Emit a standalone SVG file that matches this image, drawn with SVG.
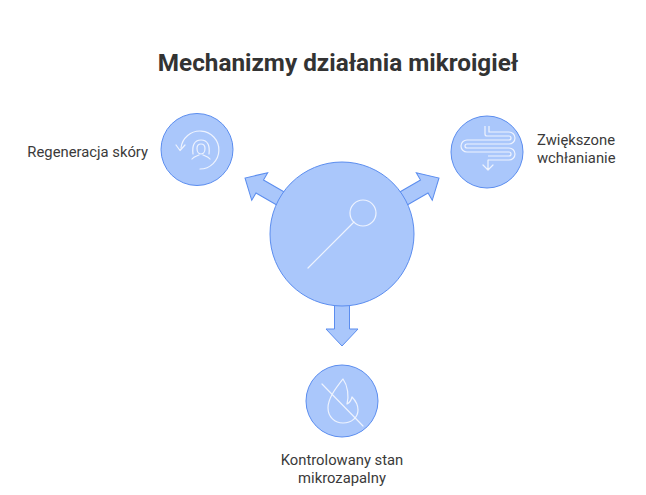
<svg xmlns="http://www.w3.org/2000/svg" width="646" height="495" viewBox="0 0 646 495">
<defs>
<style>
.node{fill:#aac7fb;stroke:#5b8def;stroke-width:1}
.arrow{fill:#aac7fb;stroke:#5b8def;stroke-width:1;stroke-linejoin:miter}
.icon{fill:none;stroke:#eef3fe;stroke-width:1.2;stroke-linecap:round;stroke-linejoin:round}
.title{font-family:Roboto,"Liberation Sans",sans-serif;font-weight:bold;font-size:24.3px;fill:#333333}
.label{font-family:Roboto,"Liberation Sans",sans-serif;font-size:14.8px;fill:#3a3a3a}
</style>
<polygon id="arrowShape" points="0,-7.5 95,-7.5 95,-16 112,0 95,16 95,7.5 0,7.5"/>
</defs>
<rect width="646" height="495" fill="#ffffff"/>
<text class="title" x="338" y="71" text-anchor="middle">Mechanizmy działania mikroigieł</text>
<g id="connectors">
<use href="#arrowShape" class="arrow" transform="translate(342,234) rotate(-150)"/>
<use href="#arrowShape" class="arrow" transform="translate(342,234) rotate(-30)"/>
<use href="#arrowShape" class="arrow" transform="translate(342,234) rotate(90)"/>
</g>
<g id="center">
<circle class="node" cx="342" cy="234" r="72"/>
<circle class="icon" cx="363" cy="213" r="13"/>
<line class="icon" x1="308" y1="268" x2="354" y2="222"/>
</g>
<g id="regeneracja">
<circle class="node" cx="197" cy="149.5" r="36"/>
<path class="icon" d="M200,169 A19,19 0 1 0 181,148"/>
<path class="icon" d="M176,145 L180,150.5 L185,145"/>
<path class="icon" d="M193,154 C192,146 194,140 201,140 C208,140 210,146 209,154"/>
<path class="icon" d="M197,148.5 C197,145 199,144 201,144 C203,144 205,145 205,148.5 C205,152 203,154 201,154 C199,154 197,152 197,148.5 Z"/>
<path class="icon" d="M192,159 C194,156.5 197,156 199,155 M210,159 C208,156.5 205,156 203,155"/>
<text class="label" x="148" y="157" text-anchor="end">Regeneracja skóry</text>
</g>
<g id="wchlanianie">
<circle class="node" cx="487" cy="152" r="36"/>
<path d="M487,126 V134 H509 A4,4 0 0 1 509,142 H467 A4,4 0 0 0 467,150 H509 A4,4 0 0 1 509,158 H488" fill="none" stroke="#eef3fe" stroke-width="5.2" stroke-linejoin="round"/>
<path d="M487,125 V134 H509 A4,4 0 0 1 509,142 H467 A4,4 0 0 0 467,150 H509 A4,4 0 0 1 509,158 H488" fill="none" stroke="#aac7fb" stroke-width="2.8" stroke-linejoin="round"/>
<path class="icon" d="M488,160 V170 M483,165 L488,170 L493,165"/>
<text class="label" x="537" y="145">Zwiększone</text>
<text class="label" x="537" y="163">wchłanianie</text>
</g>
<g id="mikrozapalny">
<circle class="node" cx="342" cy="401" r="36"/>
<path class="icon" d="M343,379 C336,388 328,398 328,408 C328,417 335,423 343,423 C352,423 358,417 358,410 C358,404 355,400 352,397 C351,401 349,403 347,404 C349,396 348,386 343,379 Z"/>
<line class="icon" x1="322" y1="384" x2="363" y2="426"/>
<text class="label" x="342" y="465" text-anchor="middle">Kontrolowany stan</text>
<text class="label" x="342" y="483" text-anchor="middle">mikrozapalny</text>
</g>
</svg>
